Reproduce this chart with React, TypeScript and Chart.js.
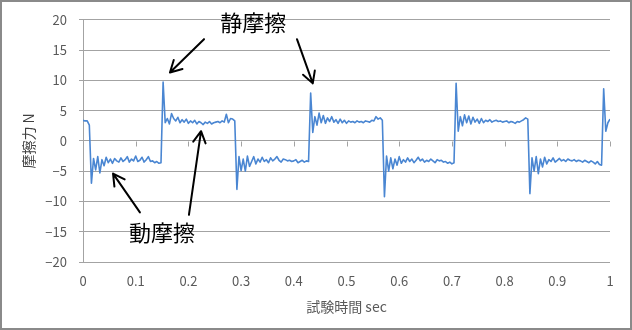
import React, { useEffect, useRef } from 'react';
import { Chart, registerables } from 'chart.js';

Chart.register(...registerables);

// ---- data (friction force N, sampled every SAMPLE_DT seconds) ----
const SAMPLE_DT = 0.004;

const startHigh = [3.4, 3.3, 3.3, 2.6];
const staticPeaks = [9.7, 7.9, 9.5, 8.6];
const dropSpikes = [-7.0, -8.0, -9.2, -8.7];

const low1 = [-2.9, -4.8, -2.6, -5.3, -3.1, -4.1, -2.7, -3.6, -3.0, -3.7, -2.9, -3.3, -3.5, -2.8, -3.4, -3.1, -2.6, -3.5, -3.0, -3.3, -2.5, -3.4, -3.2, -2.7, -3.5, -3.1, -2.6, -3.4, -3.3, -3.6, -3.4, -3.7, -3.6];
const high1 = [3.0, 3.7, 2.8, 4.5, 3.7, 3.3, 3.9, 3.0, 3.5, 3.1, 3.6, 2.9, 3.3, 3.0, 3.4, 2.8, 3.2, 3.0, 2.7, 3.1, 2.9, 3.2, 2.8, 3.0, 3.1, 3.2, 3.0, 3.3, 3.1, 4.4, 3.0, 3.7, 3.6, 3.3];
const low2 = [-2.6, -4.9, -3.0, -5.0, -2.5, -4.2, -3.4, -2.6, -3.8, -3.0, -3.5, -2.7, -3.4, -3.1, -3.6, -2.8, -3.3, -3.0, -2.6, -3.2, -3.5, -3.0, -3.1, -3.3, -3.2, -3.4, -3.3, -3.1, -3.6, -3.4, -3.2, -3.5, -3.3, -3.4];
const high2 = [1.4, 4.0, 2.6, 4.6, 3.0, 4.2, 2.9, 3.8, 3.2, 4.0, 3.1, 3.5, 2.9, 3.6, 3.0, 3.4, 2.9, 3.3, 3.1, 3.2, 3.0, 3.3, 3.1, 3.2, 3.0, 3.3, 3.2, 3.1, 3.4, 3.3, 4.0, 3.6, 3.8, 3.4];
const low3 = [-2.5, -5.0, -2.8, -4.6, -3.0, -4.0, -2.6, -3.7, -3.1, -3.5, -2.8, -3.4, -3.0, -3.6, -3.2, -2.7, -3.3, -3.0, -3.5, -3.2, -3.4, -3.0, -3.3, -3.6, -3.1, -3.3, -3.2, -3.5, -3.4, -3.7, -3.5, -3.8, -3.6];
const high3 = [1.6, 4.0, 2.5, 4.3, 3.0, 4.1, 2.8, 3.9, 3.1, 3.6, 2.9, 3.7, 3.0, 3.4, 3.2, 3.5, 3.1, 3.3, 3.4, 3.2, 3.3, 3.1, 3.2, 3.3, 3.0, 3.2, 3.1, 2.9, 3.2, 3.1, 3.3, 3.5, 3.8, 3.6];
const low4 = [-2.8, -5.0, -2.6, -5.4, -3.0, -4.3, -2.7, -3.8, -3.1, -3.4, -2.8, -3.5, -3.2, -2.9, -3.3, -3.1, -3.4, -3.0, -3.2, -3.3, -3.1, -3.4, -3.2, -3.3, -3.5, -3.2, -3.4, -3.6, -3.3, -3.5, -3.8, -3.4, -3.9, -4.0];
const endHigh = [1.6, 3.0, 3.6];

const force = [
  ...startHigh, dropSpikes[0], ...low1, staticPeaks[0], ...high1,
  dropSpikes[1], ...low2, staticPeaks[1], ...high2,
  dropSpikes[2], ...low3, staticPeaks[2], ...high3,
  dropSpikes[3], ...low4, staticPeaks[3], ...endHigh,
];

const xTicks = [0, 0.1, 0.2, 0.3, 0.4, 0.5, 0.6, 0.7, 0.8, 0.9, 1];
const yTicks = [-20, -15, -10, -5, 0, 5, 10, 15, 20];

const xTitle = '試験時間 sec';
const yTitle = '摩擦力 N';

// annotation labels and arrows in data coordinates (time, force)
const labels = [
  { text: '静摩擦', x: 0.323, y: 19.6 },
  { text: '動摩擦', x: 0.150, y: -15.2 },
];
const arrows = [
  { from: [0.2296, 16.8], to: [0.165, 11.3] },
  { from: [0.406, 16.8], to: [0.436, 9.5] },
  { from: [0.108, -11.8], to: [0.057, -5.4] },
  { from: [0.201, -12.2], to: [0.224, 1.6] },
];

const GRID = '#a3a3a3';
const TEXT = '#595959';
const LINE = '#4a86d2';
const FONT = "'Noto Sans CJK JP', 'Noto Sans', sans-serif";

export default function App() {
  const ref = useRef<HTMLCanvasElement | null>(null);

  useEffect(() => {
    document.body.style.margin = '0';
    const canvas = ref.current;
    if (!canvas) return;

    const frame = {
      id: 'frame',
      afterDraw(chart: any) {
        const ctx = chart.ctx;
        ctx.save();
        ctx.strokeStyle = '#8a8a8a';
        ctx.lineWidth = 2;
        ctx.strokeRect(1, 1, chart.width - 2, chart.height - 2);
        ctx.restore();
      },
    };

    const zeroAxis = {
      id: 'zeroAxis',
      beforeDatasetsDraw(chart: any) {
        const { ctx, scales } = chart;
        const y0 = Math.round(scales.y.getPixelForValue(0)) + 0.5;
        ctx.save();
        ctx.strokeStyle = GRID;
        ctx.lineWidth = 1;
        ctx.beginPath();
        for (const t of xTicks) {
          const px = Math.round(scales.x.getPixelForValue(t)) + 0.5;
          ctx.moveTo(px, y0);
          ctx.lineTo(px, y0 + 5);
        }
        ctx.stroke();
        ctx.restore();
      },
    };

    const notes = {
      id: 'notes',
      afterDraw(chart: any) {
        const { ctx, scales } = chart;
        const X = (v: number) => scales.x.getPixelForValue(v);
        const Y = (v: number) => scales.y.getPixelForValue(v);
        ctx.save();
        ctx.fillStyle = '#000';
        ctx.font = `22px ${FONT}`;
        ctx.textAlign = 'center';
        ctx.textBaseline = 'middle';
        for (const l of labels) ctx.fillText(l.text, X(l.x), Y(l.y));
        ctx.strokeStyle = '#000';
        ctx.lineWidth = 2;
        ctx.lineCap = 'round';
        ctx.lineJoin = 'round';
        for (const a of arrows) {
          const x1 = X(a.from[0]), y1 = Y(a.from[1]);
          const x2 = X(a.to[0]), y2 = Y(a.to[1]);
          const ang = Math.atan2(y2 - y1, x2 - x1);
          const len = 13, spread = 0.5;
          ctx.beginPath();
          ctx.moveTo(x1, y1);
          ctx.lineTo(x2, y2);
          ctx.moveTo(x2 - len * Math.cos(ang - spread), y2 - len * Math.sin(ang - spread));
          ctx.lineTo(x2, y2);
          ctx.lineTo(x2 - len * Math.cos(ang + spread), y2 - len * Math.sin(ang + spread));
          ctx.stroke();
        }
        ctx.restore();
      },
    };

    const chart = new Chart(canvas, {
      type: 'line',
      data: {
        datasets: [
          {
            data: force.map((y, i) => ({ x: +(i * SAMPLE_DT).toFixed(3), y })),
            borderColor: LINE,
            borderWidth: 1.6,
            pointRadius: 0,
            tension: 0,
            borderJoinStyle: 'round',
            fill: false,
          },
        ],
      },
      options: {
        animation: false,
        responsive: false,
        layout: { padding: { top: 17, right: 22, left: 0, bottom: 0 } },
        plugins: { legend: { display: false }, tooltip: { enabled: false } },
        scales: {
          x: {
            type: 'linear',
            min: 0,
            max: 1,
            afterBuildTicks(s: any) {
              s.ticks = xTicks.map((v) => ({ value: v }));
            },
            grid: { display: false, drawTicks: false },
            border: { display: false },
            ticks: {
              autoSkip: false,
              maxRotation: 0,
              padding: 11,
              color: TEXT,
              font: { family: FONT, size: 13 },
              callback: (v: any) => String(Number(Number(v).toFixed(1))),
            },
            title: {
              display: true,
              text: xTitle,
              color: TEXT,
              font: { family: FONT, size: 14 },
              padding: { top: 0, bottom: 15 },
            },
            afterFit(s: any) {
              s.height = 68;
            },
          },
          y: {
            type: 'linear',
            min: -20,
            max: 20,
            afterBuildTicks(s: any) {
              s.ticks = yTicks.map((v) => ({ value: v }));
            },
            grid: { color: GRID, tickLength: 4 },
            border: { display: true, color: GRID },
            ticks: {
              padding: 12,
              color: TEXT,
              font: { family: FONT, size: 13 },
              callback: (v: any) => (v < 0 ? '\u2212' + Math.abs(v) : String(v)),
            },
            title: {
              display: true,
              text: yTitle,
              color: '#404040',
              font: { family: FONT, size: 14 },
              padding: { top: 20, bottom: 0 },
            },
            afterFit(s: any) {
              s.width = 83;
            },
          },
        },
      },
      plugins: [zeroAxis, notes, frame],
    } as any);

    return () => chart.destroy();
  }, []);

  return (
    <div style={{ width: 632, height: 330, background: '#fff' }}>
      <canvas ref={ref} width={632} height={330} style={{ display: 'block' }} />
    </div>
  );
}
